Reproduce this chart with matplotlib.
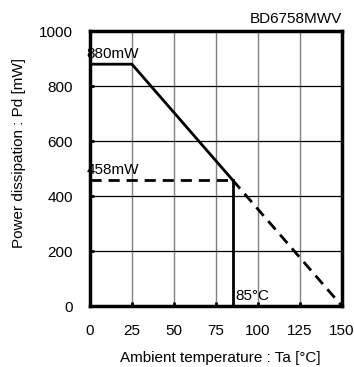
import matplotlib
matplotlib.use("Agg")
import matplotlib.pyplot as plt

# derating curve
temp_solid = [0, 25, 85]
pd_solid = [880, 880, 458]
temp_dash = [85, 150]
pd_dash = [458, 0]
pd_at_85 = 458
ta_max = 85

x_ticks = [0, 25, 50, 75, 100, 125, 150]
y_ticks = [0, 200, 400, 600, 800, 1000]

plt.rcParams['font.family'] = ['Liberation Sans', 'DejaVu Sans']
plt.rcParams['font.size'] = 11

fig = plt.figure(figsize=(3.54, 3.67), dpi=100)
ax = fig.add_axes([0.254, 0.166, 0.712, 0.749])

ax.set_xlim(0, 150)
ax.set_ylim(0, 1000)

for x in x_ticks[1:-1]:
    ax.axvline(x, color='#808080', lw=1.0, zorder=1)
for y in y_ticks[1:-1]:
    ax.axhline(y, color='black', lw=0.9, zorder=1)

ax.plot(temp_solid, pd_solid, color='black', lw=2, zorder=3)
ax.plot(temp_dash, pd_dash, color='black', lw=2, ls=(0, (4, 2.5)), zorder=3)
ax.plot([0, ta_max], [pd_at_85, pd_at_85], color='black', lw=2, ls=(0, (4, 2.5)), zorder=3)
ax.plot([ta_max, ta_max], [0, pd_at_85], color='black', lw=2, zorder=3)

ax.text(-2, 892, '880mW', ha='left', va='bottom')
ax.text(-2, 470, '458mW', ha='left', va='bottom')
ax.text(86.5, 10, '85°C', ha='left', va='bottom')
ax.text(150, 1020, 'BD6758MWV', ha='right', va='bottom')

ax.set_xticks(x_ticks)
ax.set_yticks(y_ticks)
ax.tick_params(axis='x', direction='in', length=3, width=2, pad=13)
ax.tick_params(axis='y', direction='in', length=3, width=2, pad=12)
for s in ax.spines.values():
    s.set_linewidth(2.5)

ax.set_xlabel('Ambient temperature : Ta [°C]')
ax.xaxis.set_label_coords(0.516, -0.163)
ax.set_ylabel('Power dissipation : Pd [mW]')
ax.yaxis.set_label_coords(-0.254, 0.556)

fig.savefig('out.png', dpi=100)
